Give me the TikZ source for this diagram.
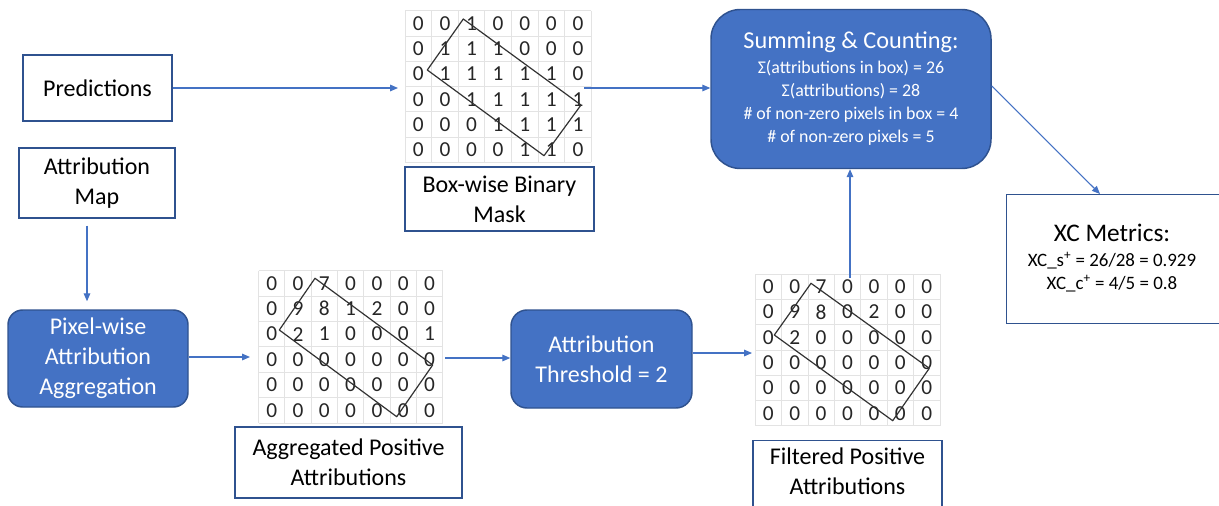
\documentclass[tikz,border=0pt]{standalone}
\usepackage{fontspec}
\setmainfont{Carlito}
\usetikzlibrary{arrows.meta,calc}
\definecolor{office}{HTML}{4472C4}
\definecolor{officedark}{HTML}{2F528F}
\definecolor{gridline}{HTML}{E3E3E3}
\tikzset{
  sz/.style 2 args={minimum width=#1*0.75pt, minimum height=#2*0.75pt},
  plainbox/.style={draw=officedark, line width=1.1pt, fill=white, align=center,
    inner sep=0pt, font=\fontsize{18}{22.5}\selectfont},
  bluebox/.style={draw=officedark, line width=1.1pt, fill=office, text=white,
    rounded corners=11pt, align=center, inner sep=0pt,
    font=\fontsize{18}{22.5}\selectfont},
  boxtext/.style={align=center, inner sep=0pt, font=\fontsize{18}{22.5}\selectfont},
  flow/.style={draw=office, line width=0.8pt, -{Triangle[length=6pt,width=5pt]}},
  cell/.style={inner sep=0pt, text=black!85, font=\fontsize{16}{16}\selectfont},
  gridrule/.style={draw=gridline, line width=0.6pt},
  maskbox/.style={draw=black!80, line width=0.9pt, line join=round},
}
% #1 name prefix, #2 x of first column, #3 y of first row, #4 column step, #5 row step, #6 rows
\newcommand{\drawnumgrid}[6]{%
  \foreach \k in {0,...,7}
    \draw[gridrule] ({#2+(\k-0.5)*#4},{#3-0.5*#5}) -- ({#2+(\k-0.5)*#4},{#3+5.5*#5});
  \foreach \k in {0,...,6}
    \draw[gridrule] ({#2-0.5*#4},{#3+(\k-0.5)*#5}) -- ({#2+6.5*#4},{#3+(\k-0.5)*#5});
  \foreach \row [count=\r from 0] in {#6} {
    \foreach \v [count=\c from 0] in \row {
      \node[cell] (#1-\r-\c) at ({#2+\c*#4},{#3+\r*#5}) {\v};
    }
  }%
}
\begin{document}
\begin{tikzpicture}[x=0.75pt,y=-0.75pt]
\useasboundingbox (0,0) rectangle (1219,506);
\clip (0,0) rectangle (1219,506);

% input boxes
\node[plainbox, sz={149}{66}] (pred) at (97.5,88) {Predictions};
\node[plainbox, sz={156}{70}] (amap) at (97,183) {Attribution\\Map};

% processing steps
\node[bluebox, sz={180}{97}] (pwa) at (98,358.5) {Pixel-wise\\Attribution\\Aggregation};
\node[bluebox, sz={181}{98}, rounded corners=12pt] (thr) at (601.5,359) {Attribution\\Threshold = 2};
\node[bluebox, sz={280}{159}, rounded corners=22pt,
      font=\fontsize{13.4}{17.25}\selectfont] (sum) at (851,89)
  {{\fontsize{18.2}{21}\selectfont Summing \& Counting:}\\[1.5pt]
   Σ(attributions in box) = 26\\
   Σ(attributions) = 28\\
   \# of non-zero pixels in box = 4\\
   \# of non-zero pixels = 5};

% result box
\node[plainbox, sz={222}{129}, anchor=north west] (xc) at (1006,194) {};
\node[boxtext, anchor=north, font=\fontsize{14.2}{17.25}\selectfont] (xc-label) at (1112,224)
  {{\fontsize{19}{21}\selectfont XC Metrics:}\\[1pt]
   XC\_s\textsuperscript{+} = 26/28 = 0.929\\
   XC\_c\textsuperscript{+} = 4/5 = 0.8};

% grids of values
\drawnumgrid{mask}{418.3}{23.3}{26.6}{25.3}{{0,0,1,0,0,0,0},{0,1,1,1,0,0,0},{0,1,1,1,1,1,0},{0,0,1,1,1,1,1},{0,0,0,1,1,1,1},{0,0,0,0,1,1,0}}
\drawnumgrid{agg}{271.7}{283.3}{26.3}{25.4}{{0,0,7,0,0,0,0},{0,9,8,1,2,0,0},{0,2,1,0,0,0,1},{0,0,0,0,0,0,0},{0,0,0,0,0,0,0},{0,0,0,0,0,0,0}}
\drawnumgrid{filt}{768.3}{286.7}{26.4}{25.3}{{0,0,7,0,0,0,0},{0,9,8,0,2,0,0},{0,2,0,0,0,0,0},{0,0,0,0,0,0,0},{0,0,0,0,0,0,0},{0,0,0,0,0,0,0}}

% rotated bounding boxes
\draw[maskbox] (463.3,19) -- (427.3,70) -- (544,155.7) -- (581,105) -- cycle;
\draw[maskbox] (315,278.3) -- (279.3,330) -- (396.7,416.7) -- (432.7,365) -- cycle;
\draw[maskbox] (811,283.3) -- (774.3,335) -- (892.7,420.7) -- (929.3,368.3) -- cycle;

% captions under the grids
\node[plainbox, sz={189}{64}] (maskcap) at (499.5,199) {Box-wise Binary\\Mask};
\node[plainbox, sz={227}{71}] (aggcap) at (348.5,462.5) {Aggregated Positive\\Attributions};
\node[plainbox, sz={189}{80}, anchor=north] (filtcap) at (847.5,440) {};
\node[boxtext] (filtcap-label) at (847.5,471) {Filtered Positive\\Attributions};

% connector end points at the grids
\coordinate (maskin) at (398,88);
\coordinate (maskout) at (584,88);
\coordinate (aggin) at (250,357);
\coordinate (aggout) at (445,358);
\coordinate (filtin) at (752,353);
\coordinate (filtout) at (850,278);

% connectors
\draw[flow] (pred.east) -- (maskin);
\draw[flow] (maskout) -- (sum.west |- maskout);
\draw[flow] ($(amap.south)+(-10,7)$) -- ($(pwa.north)+(-11,-8)$);
\draw[flow] (pwa.east |- aggin) -- (aggin);
\draw[flow] (aggout) -- (thr.west |- aggout);
\draw[flow] (thr.east |- filtin) -- (filtin);
\draw[flow] (filtout) -- (filtout |- sum.south);
\draw[flow] ($(sum.east)+(0,-3)$) -- ($(xc.north west)+(94,0)$);
\end{tikzpicture}
\end{document}
